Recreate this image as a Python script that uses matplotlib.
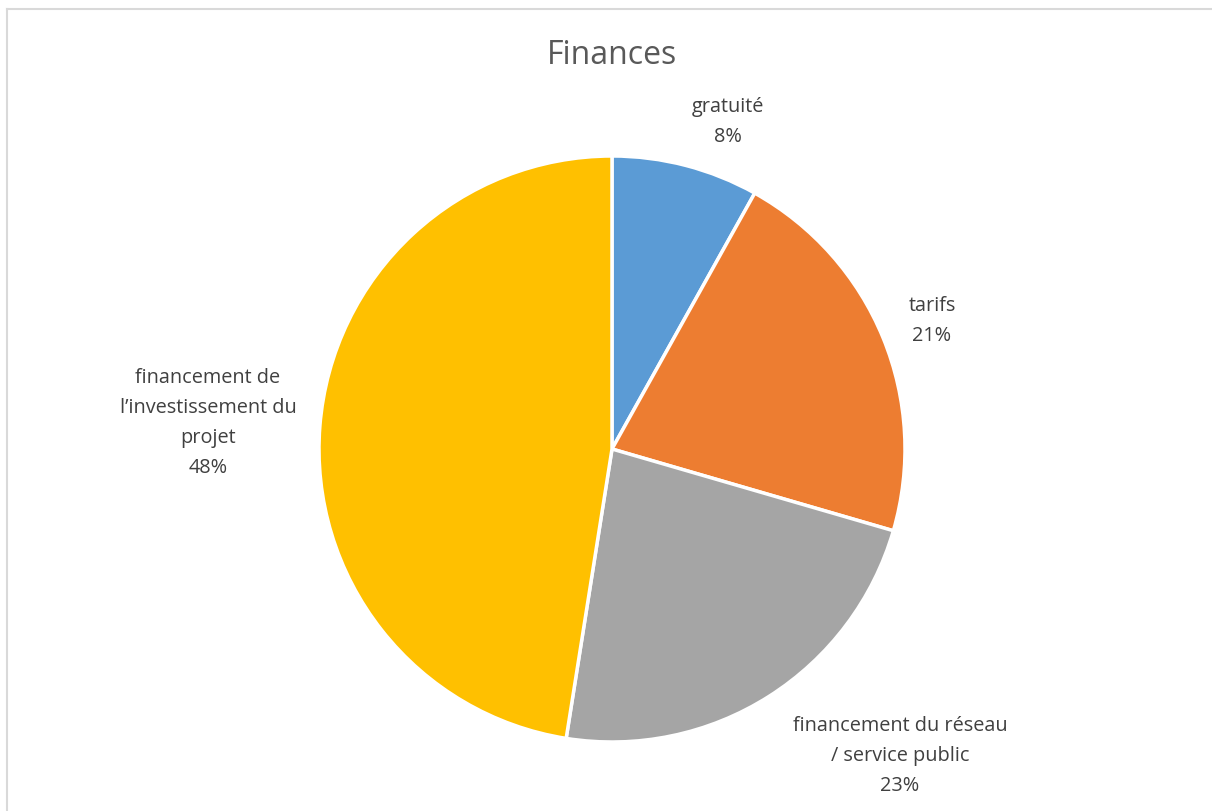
import matplotlib
matplotlib.use("Agg")
import matplotlib.pyplot as plt
from matplotlib.lines import Line2D

categories = ["gratuité", "tarifs", "financement du réseau\n/ service public", "financement de\nl’investissement du\nprojet"]
values = [8.1, 21.4, 23.0, 47.5]
colors = ["#5B9BD5", "#ED7D31", "#A5A5A5", "#FFC000"]
label_pos = [(728, 122), (932, 321), (900, 756), (208, 423)]  # pixel centers

W, H = 1212, 811
plt.rcParams['font.family'] = ['Open Sans', 'DejaVu Sans']
fig = plt.figure(figsize=(W/100, H/100), dpi=100)
fig.patch.set_facecolor("white")

cx, cy, r = 612, 449, 293
ax = fig.add_axes([(cx - r)/W, (H - cy - r)/H, 2*r/W, 2*r/H])
ax.pie(values, colors=colors, startangle=90, counterclock=False,
       wedgeprops=dict(edgecolor="white", linewidth=2.5))
ax.set_aspect("equal")
ax.set_xlim(-1, 1); ax.set_ylim(-1, 1)
ax.axis("off")

total = sum(values)
for cat, v, (px, py) in zip(categories, values, label_pos):
    fig.text(px/W, 1 - py/H, f"{cat}\n{round(100*v/total)}%", ha="center", va="center",
             fontsize=14.3, color="#404040", linespacing=1.65)

fig.text(612/W, 1 - 55/H, "Finances", ha="center", va="center", fontsize=23, color="#595959")

fig.add_artist(Line2D([7/W, 1], [1 - 9/H, 1 - 9/H], transform=fig.transFigure, color="#D9D9D9", lw=1.5))
fig.add_artist(Line2D([7/W, 7/W], [0, 1 - 9/H], transform=fig.transFigure, color="#D9D9D9", lw=1.5))

fig.savefig("out.png", dpi=100)
